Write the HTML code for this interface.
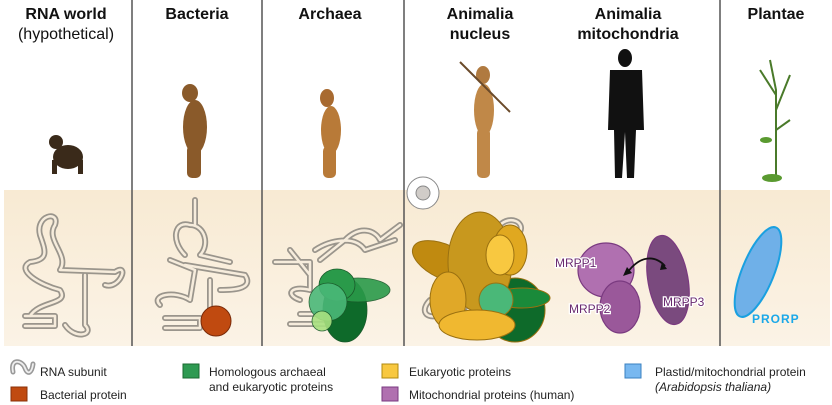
<!DOCTYPE html>
<html><head><meta charset="utf-8"><style>
body{margin:0;background:#fff;width:832px;height:405px;overflow:hidden;font-family:"Liberation Sans",sans-serif}
svg{display:block}
</style></head><body>
<svg width="832" height="405" viewBox="0 0 832 405" xmlns="http://www.w3.org/2000/svg">
<defs>
<linearGradient id="bg" x1="0" y1="0" x2="0" y2="1"><stop offset="0" stop-color="#f8ead3"/><stop offset="1" stop-color="#fbf3e6"/></linearGradient>
</defs>
<rect x="4" y="190" width="826" height="156" fill="url(#bg)"/>
<g stroke="#555" stroke-width="1.5">
<line x1="132" y1="0" x2="132" y2="346"/><line x1="262" y1="0" x2="262" y2="346"/>
<line x1="404" y1="0" x2="404" y2="346"/><line x1="720" y1="0" x2="720" y2="346"/>
</g>
<g font-weight="bold" font-size="16" text-anchor="middle" fill="#111">
<text x="66" y="19">RNA world</text><text x="66" y="39" font-weight="normal">(hypothetical)</text>
<text x="197" y="19">Bacteria</text><text x="330" y="19">Archaea</text>
<text x="480" y="19">Animalia</text><text x="480" y="39">nucleus</text>
<text x="628" y="19">Animalia</text><text x="628" y="39">mitochondria</text>
<text x="776" y="19">Plantae</text>
</g>
<!-- figures -->
<g fill="#8a5a2a">
<ellipse cx="68" cy="157" rx="15" ry="12" fill="#3a2a1a"/><ellipse cx="56" cy="142" rx="7" ry="7" fill="#3a2a1a"/>
<rect x="52" y="160" width="5" height="14" fill="#3a2a1a"/><rect x="78" y="160" width="5" height="14" fill="#3a2a1a"/>
<ellipse cx="190" cy="93" rx="8" ry="9"/><ellipse cx="195" cy="127" rx="12" ry="27"/><rect x="187" y="145" width="14" height="33" rx="5"/>
<ellipse cx="327" cy="98" rx="7" ry="9" fill="#a86a30"/><ellipse cx="331" cy="130" rx="10" ry="24" fill="#b87a38"/><rect x="323" y="146" width="13" height="32" rx="5" fill="#b87a38"/>
<ellipse cx="483" cy="75" rx="7" ry="9" fill="#b07a40"/><ellipse cx="484" cy="110" rx="10" ry="26" fill="#c08848"/><rect x="477" y="128" width="13" height="50" rx="5" fill="#c08848"/>
<line x1="460" y1="62" x2="510" y2="112" stroke="#6a4a2a" stroke-width="2"/>
</g>
<g fill="#111">
<ellipse cx="625" cy="58" rx="7" ry="9"/><path d="M610 70 L642 70 L644 130 L636 130 L634 178 L627 178 L625 132 L622 178 L615 178 L614 130 L608 130 Z"/>
</g>
<g stroke="#4a7a2a" stroke-width="2" fill="none"><path d="M776 180 L776 90 L770 60 M776 110 L790 75 M776 95 L760 70 M776 130 L790 120"/></g>
<g fill="#5a9a30"><ellipse cx="772" cy="178" rx="10" ry="4"/><ellipse cx="766" cy="140" rx="6" ry="3"/></g>
<!-- RNA -->
<g fill="none" stroke-linecap="round" stroke-linejoin="round">
<g stroke="#9a958c" stroke-width="6">
<path d="M25 316 L55 316 L55 326 L25 326 M30 316 C40 300 70 305 60 290 C40 285 15 270 30 262 C50 260 45 250 40 235 C35 215 60 210 55 225 C45 240 70 255 60 270 L115 272 C130 262 120 290 105 285 M85 275 L85 325 C95 335 75 340 65 325"/>
<path d="M165 318 L200 318 L200 328 L165 328 M160 305 C150 295 175 290 190 300 L195 270 L170 260 M185 255 C170 240 175 220 190 225 C205 225 210 245 200 255 L230 262 M195 225 L195 200 M185 265 L245 275 C255 290 230 290 220 290 M210 280 L210 318"/>
<path d="M290 324 L330 324 L330 314 L300 314 M300 300 C285 295 290 285 310 290 L310 262 L275 262 M290 250 L310 275 M320 260 L345 240 C360 225 375 230 380 240 L400 225 M315 250 C330 240 355 235 365 250 L395 240"/>
<path d="M455 255 L480 240 L500 225 C510 215 525 222 520 232 M450 330 L470 300 L500 280 M430 300 C420 310 425 320 440 315"/>
</g>
<g stroke="#f6ecdc" stroke-width="2.5">
<path d="M25 316 L55 316 L55 326 L25 326 M30 316 C40 300 70 305 60 290 C40 285 15 270 30 262 C50 260 45 250 40 235 C35 215 60 210 55 225 C45 240 70 255 60 270 L115 272 C130 262 120 290 105 285 M85 275 L85 325 C95 335 75 340 65 325"/>
<path d="M165 318 L200 318 L200 328 L165 328 M160 305 C150 295 175 290 190 300 L195 270 L170 260 M185 255 C170 240 175 220 190 225 C205 225 210 245 200 255 L230 262 M195 225 L195 200 M185 265 L245 275 C255 290 230 290 220 290 M210 280 L210 318"/>
<path d="M290 324 L330 324 L330 314 L300 314 M300 300 C285 295 290 285 310 290 L310 262 L275 262 M290 250 L310 275 M320 260 L345 240 C360 225 375 230 380 240 L400 225 M315 250 C330 240 355 235 365 250 L395 240"/>
<path d="M455 255 L480 240 L500 225 C510 215 525 222 520 232 M450 330 L470 300 L500 280 M430 300 C420 310 425 320 440 315"/>
</g>
</g>
<circle cx="216" cy="321" r="15" fill="#c04a10" stroke="#7a2a08"/>
<!-- archaea proteins -->
<g stroke="#1a5a2a" stroke-width="0.8">
<ellipse cx="345" cy="310" rx="22" ry="32" fill="#0e6a2a"/>
<ellipse cx="358" cy="290" rx="32" ry="12" fill="#2a9a4a" opacity="0.9"/>
<ellipse cx="337" cy="285" rx="18" ry="16" fill="#2a9a4a"/>
<ellipse cx="328" cy="302" rx="19" ry="19" fill="#4ab878" opacity="0.9"/>
<ellipse cx="322" cy="321" rx="10" ry="10" fill="#a8e080" opacity="0.9"/>
</g>
<!-- nucleus -->
<g stroke="#9a7010" stroke-width="1">
<ellipse cx="515" cy="310" rx="30" ry="32" fill="#0e6a2a"/>
<ellipse cx="522" cy="298" rx="28" ry="10" fill="#1a8a3a"/>
<ellipse cx="445" cy="262" rx="35" ry="17" transform="rotate(25 445 262)" fill="#c08a10"/>
<ellipse cx="480" cy="262" rx="32" ry="50" fill="#c8981e"/>
<ellipse cx="510" cy="250" rx="17" ry="25" fill="#e0a820"/>
<ellipse cx="500" cy="255" rx="14" ry="20" fill="#f8c840"/>
<ellipse cx="448" cy="300" rx="18" ry="28" fill="#e0a828"/>
<ellipse cx="496" cy="300" rx="17" ry="17" fill="#4ab878"/>
<ellipse cx="477" cy="325" rx="38" ry="15" fill="#f0b830"/>
</g>
<circle cx="423" cy="193" r="16" fill="#fff" stroke="#888"/><circle cx="423" cy="193" r="7" fill="#d0ccc8" stroke="#888"/>
<!-- mito -->
<g stroke="#7a3a80" stroke-width="1.2">
<ellipse cx="606" cy="270" rx="28" ry="27" fill="#b070b0"/>
<ellipse cx="620" cy="307" rx="20" ry="26" fill="#9a589a"/>
<ellipse cx="668" cy="280" rx="20" ry="45" transform="rotate(-10 668 280)" fill="#7a4a7e"/>
</g>
<path d="M627 273 C640 255 655 255 665 266" fill="none" stroke="#111" stroke-width="1.8"/>
<path d="M623 276 L627 267 L632 273 Z M667 269 L662 262 L660 270 Z" fill="#111"/>
<g font-size="12" fill="#6a2a70" stroke="#fff" stroke-width="2.5" paint-order="stroke">
<text x="555" y="267">MRPP1</text><text x="569" y="313">MRPP2</text><text x="663" y="306">MRPP3</text>
</g>
<ellipse cx="758" cy="272" rx="16" ry="48" transform="rotate(22 758 272)" fill="#6fb0e8" stroke="#1aa0e0" stroke-width="2"/>
<text x="752" y="323" font-size="12" font-weight="bold" fill="#1aa8e8" letter-spacing="1">PRORP</text>
<!-- legend -->
<path d="M13 372 C10 358 22 360 25 368 C28 376 32 372 33 364" fill="none" stroke="#999" stroke-width="5" stroke-linecap="round"/>
<path d="M13 372 C10 358 22 360 25 368 C28 376 32 372 33 364" fill="none" stroke="#eee" stroke-width="1.8" stroke-linecap="round"/>
<rect x="11" y="387" width="16" height="14" fill="#c04a10" stroke="#8a3008"/>
<rect x="183" y="364" width="16" height="14" fill="#2e9a52" stroke="#1a6a30"/>
<rect x="382" y="364" width="16" height="14" fill="#f8c840" stroke="#b08a10"/>
<rect x="382" y="387" width="16" height="14" fill="#b070b0" stroke="#7a3a80"/>
<rect x="625" y="364" width="16" height="14" fill="#78b8f0" stroke="#3a80c0"/>
<g font-size="12" fill="#222">
<text x="40" y="376">RNA subunit</text><text x="40" y="399">Bacterial protein</text>
<text x="209" y="376">Homologous archaeal</text><text x="209" y="391">and eukaryotic proteins</text>
<text x="409" y="376">Eukaryotic proteins</text><text x="409" y="399">Mitochondrial proteins (human)</text>
<text x="655" y="376">Plastid/mitochondrial protein</text><text x="655" y="391" font-style="italic">(Arabidopsis thaliana)</text>
</g>
</svg>
</body></html>
